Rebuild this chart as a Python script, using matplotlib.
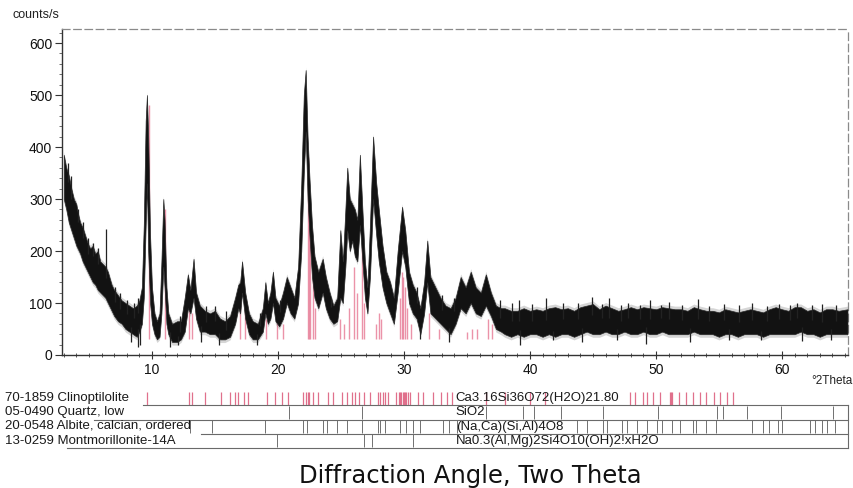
import numpy as np
import matplotlib
matplotlib.use("Agg")
import matplotlib.pyplot as plt
from matplotlib.ticker import MultipleLocator

# ---------------- data ----------------
# noise band of the measured pattern: two-theta, lower edge, upper edge (counts/s)
two_theta = [3.0, 3.2, 3.4, 3.6, 3.8, 4.0, 4.1, 4.3, 4.5, 4.7, 4.9, 5.1, 5.3, 5.5, 5.7, 5.9,
             6.1, 6.3, 6.5, 6.8, 7.0, 7.3, 7.6, 7.9, 8.2, 8.5, 8.8, 9.0, 9.2, 9.35, 9.5, 9.6,
             9.7, 9.85, 10.0, 10.2, 10.4, 10.6, 10.75, 10.9, 11.0, 11.15, 11.3, 11.6, 12.0,
             12.3, 12.6, 12.85, 13.05, 13.3, 13.5, 13.8, 14.2, 14.6, 15.0, 15.4, 15.8, 16.2,
             16.6, 16.85, 17.0, 17.15, 17.4, 17.7, 18.0, 18.4, 18.8, 19.0, 19.2, 19.4, 19.6,
             19.8, 20.1, 20.4, 20.7, 21.0, 21.3, 21.6, 21.85, 22.05, 22.2, 22.35, 22.5, 22.7,
             22.9, 23.2, 23.55, 23.8, 24.1, 24.4, 24.7, 24.95, 25.15, 25.35, 25.5, 25.7, 25.9,
             26.1, 26.3, 26.5, 26.7, 26.9, 27.1, 27.3, 27.55, 27.8, 28.0, 28.3, 28.6, 28.9,
             29.2, 29.5, 29.85, 30.1, 30.4, 30.7, 31.0, 31.3, 31.6, 31.85, 32.1, 32.5, 32.9,
             33.3, 33.7, 34.1, 34.5, 34.9, 35.3, 35.7, 36.1, 36.5, 36.9, 37.3, 37.7,
             38.0, 38.5, 39.0, 39.5, 40.0, 40.5, 41.0, 41.5, 42.0, 42.5, 43.0, 43.5, 44.0,
             44.5, 45.0, 45.5, 46.0, 46.5, 47.0, 47.5, 48.0, 48.5, 49.0, 49.5, 50.0, 50.5,
             51.0, 51.5, 52.0, 52.5, 53.0, 53.5, 54.0, 54.5, 55.0, 55.5, 56.0, 56.5, 57.0,
             57.5, 58.0, 58.5, 59.0, 59.5, 60.0, 60.5, 61.0, 61.5, 62.0, 62.5, 63.0, 63.5,
             64.0, 64.5, 65.2]
band_low = [300, 280, 255, 240, 225, 210, 205, 195, 180, 170, 160, 150, 140, 135, 125, 120,
            115, 110, 100, 85, 75, 65, 60, 50, 45, 40, 35, 45, 60, 110, 250, 330,
            200, 100, 60, 40, 30, 35, 80, 170, 130, 60, 40, 25, 25,
            30, 45, 90, 80, 110, 70, 45, 45, 40, 40, 30, 30, 35,
            60, 90, 80, 120, 70, 40, 30, 30, 45, 80, 60, 70, 100,
            65, 55, 70, 100, 80, 70, 100, 200, 350, 430, 300, 230, 150,
            110, 90, 120, 90, 70, 60, 65, 110, 100, 170, 240, 200, 220,
            190, 180, 250, 180, 110, 80, 150, 300, 230, 180, 130, 100, 80,
            60, 120, 200, 170, 100, 80, 70, 40, 80, 140, 80, 70, 60,
            50, 40, 60, 90, 80, 100, 80, 75, 95, 75, 50, 45,
            40, 35, 40, 35, 40, 40, 35, 40, 35, 40, 40, 35, 40,
            45, 40, 40, 45, 40, 40, 45, 40, 40, 45, 40, 40, 45,
            40, 40, 40, 40, 45, 40, 40, 40, 35, 40, 40, 35, 40,
            40, 40, 35, 40, 40, 40, 40, 40, 45, 40, 40, 35, 40,
            40, 40, 40]
band_high = [385, 360, 345, 320, 300, 290, 275, 255, 245, 230, 215, 205, 210, 195, 200, 180,
             175, 170, 160, 135, 125, 115, 105, 100, 95, 90, 95, 105, 130, 250, 450, 500,
             420, 230, 130, 80, 65, 80, 180, 300, 260, 130, 80, 60, 65,
             65, 110, 155, 125, 185, 120, 95, 85, 80, 85, 70, 65, 75,
             110, 135, 140, 180, 120, 80, 65, 60, 90, 140, 100, 120, 160,
             110, 95, 120, 150, 130, 110, 170, 330, 500, 548, 420, 340, 250,
             190, 160, 185, 150, 120, 95, 110, 240, 180, 280, 360, 300, 290,
             280, 260, 385, 280, 180, 130, 250, 420, 330, 280, 210, 160, 140,
             110, 200, 285, 240, 160, 135, 120, 90, 140, 220, 150, 130, 110,
             95, 90, 110, 150, 130, 160, 130, 120, 155, 120, 95, 90,
             90, 85, 85, 90, 85, 88, 85, 90, 92, 88, 90, 85, 92,
             95, 98, 88, 95, 90, 85, 88, 92, 88, 92, 90, 88, 92,
             90, 88, 88, 85, 92, 88, 85, 85, 82, 88, 85, 82, 85,
             88, 85, 82, 88, 92, 88, 85, 92, 92, 85, 88, 82, 88,
             88, 85, 88]

# isolated noise spikes above / below the band
spike_up_x = [3.3, 3.6, 4.1, 4.5, 4.9, 5.3, 5.75, 6.35, 7.1, 7.5, 8.0, 8.6, 8.9, 12.2,
              14.3, 15.0, 15.9, 18.6, 20.2, 24.2, 31.0, 33.0, 34.0, 37.6, 38.6, 39.1, 40.2,
              41.3, 42.6, 43.8, 44.9, 45.7, 46.3, 47.2, 47.8, 48.7, 49.5, 50.4, 51.0, 52.1,
              53.3, 54.2, 55.4, 56.6, 57.6, 58.8, 59.8, 60.6, 61.2, 62.4, 63.2, 64.3]
spike_up_top = [370, 345, 280, 255, 225, 215, 205, 242, 130, 120, 105, 100, 110, 75,
                95, 95, 85, 80, 105, 110, 130, 115, 110, 105, 100, 105, 98,
                110, 100, 100, 112, 98, 109, 96, 100, 97, 105, 97, 102, 96,
                108, 95, 98, 96, 100, 95, 98, 96, 100, 97, 98, 96]
spike_dn_x = [8.3, 8.9, 9.05, 11.4, 12.1, 13.9, 15.3, 18.3, 31.3, 33.6, 39.2, 41.8, 44.1,
              46.9, 49.2, 52.7, 55.8, 58.3, 61.6, 63.9]
spike_dn_bottom = [25, 15, 20, 15, 20, 25, 20, 20, 30, 25, 20, 28, 25, 28, 22, 25, 28,
                   28, 27, 28]

# Clinoptilolite reference lines drawn in the pattern (position, intensity)
ref_x = [9.75, 11.05, 12.95, 13.15, 16.95, 17.35, 19.05, 19.9, 20.4, 22.35, 22.45, 22.55,
         22.75, 22.95, 24.95, 25.25, 25.6, 26.05, 26.25, 26.65, 26.85, 27.75, 28.05, 28.2,
         29.7, 29.85, 29.95, 30.05, 30.25, 30.55, 31.95, 32.8, 35.0, 35.4, 35.8, 36.7, 36.95]
ref_y = [480, 280, 100, 80, 110, 90, 70, 80, 60, 380, 300, 250,
         150, 90, 70, 60, 90, 170, 120, 210, 100, 60, 80, 70,
         110, 160, 150, 130, 90, 60, 80, 50, 45, 50, 50, 70, 60]

# stick patterns of the identified phases
phase_codes = ["70-1859", "05-0490", "20-0548", "13-0259"]
phase_names = ["Clinoptilolite", "Quartz, low", "Albite, calcian, ordered", "Montmorillonite-14A"]
phase_formulas = ["Ca3.16Si36O72(H2O)21.80", "SiO2", "(Na,Ca)(Si,Al)4O8",
                  "Na0.3(Al,Mg)2Si4O10(OH)2!xH2O"]
clino_sticks = [9.6, 12.9, 13.2, 14.2, 15.5, 16.2, 16.6, 16.8, 17.3, 17.6, 19.1, 19.8, 20.3,
                20.8, 22.0, 22.2, 22.4, 22.5, 22.8, 23.2, 24.0, 24.4, 25.1, 25.5, 25.9, 26.1,
                26.4, 26.8, 27.3, 27.9, 28.1, 28.3, 28.5, 28.7, 29.4, 29.6, 29.7, 29.8, 29.9,
                30.0, 30.1, 30.2, 30.3, 30.5, 31.1, 31.5, 32.3, 32.9, 33.4, 33.8, 36.5, 38.0,
                40.0, 41.2, 47.9, 48.3, 49.0, 49.3, 49.8, 50.3, 51.1, 51.2, 51.3, 51.8, 52.4,
                52.9, 53.5, 54.0, 54.6, 55.1, 55.6, 56.1]
quartz_sticks = [20.86, 26.64, 36.54, 39.46, 40.29, 42.45, 45.79, 50.14, 54.87, 55.32,
                 57.23, 59.96, 64.03]
albite_sticks = [13.0, 14.8, 19.0, 22.0, 22.3, 23.6, 23.9, 24.7, 25.5, 26.7, 27.9, 28.1,
                 28.5, 29.7, 30.2, 30.7, 31.3, 33.1, 33.6, 34.2, 43.7, 44.5, 45.8, 46.1,
                 47.3, 47.7, 48.5, 49.3, 50.1, 50.5, 51.3, 51.9, 52.9, 53.2, 54.0, 54.8,
                 57.6, 58.5, 59.0, 59.7, 60.0, 62.2, 62.6, 63.2, 63.6, 64.2]
montm_sticks = [19.9, 26.8, 27.5, 30.7]
phase_sticks = [clino_sticks, quartz_sticks, albite_sticks, montm_sticks]

x_ticks = [10, 20, 30, 40, 50, 60]
y_ticks = [0, 100, 200, 300, 400, 500, 600]

# ---------------- drawing ----------------
W, H = 854, 488
fig = plt.figure(figsize=(W / 100, H / 100), dpi=100)
plt.rcParams["font.family"] = ["Liberation Sans", "DejaVu Sans"]

XMIN, XMAX = 2.86, 65.24
YMAX = 627
ax = fig.add_axes([62 / W, 1 - 355 / H, (848 - 62) / W, (355 - 29) / H])
ax.set_xlim(XMIN, XMAX)
ax.set_ylim(0, YMAX)

pink = "#e8809a"
ax.vlines(ref_x, 30, ref_y, color=pink, lw=1.0, alpha=0.85, zorder=1)

band_col = "#121212"
# soft grey halo imitating the scanned, blurred trace
ax.fill_between(two_theta, np.array(band_low) - 6, np.array(band_high) + 6,
                color="#6f6f6f", alpha=0.28, lw=0, zorder=2)
ax.fill_between(two_theta, band_low, band_high, color=band_col, lw=0.5,
                edgecolor="#2a2a2a", zorder=3)
hi_at = np.interp(spike_up_x, two_theta, band_high)
ax.vlines(spike_up_x, hi_at - 20, spike_up_top, color="#222222", lw=0.9, zorder=3)
lo_at = np.interp(spike_dn_x, two_theta, band_low)
ax.vlines(spike_dn_x, spike_dn_bottom, lo_at + 10, color="#222222", lw=0.9, zorder=3)

for s in ["top", "right"]:
    ax.spines[s].set_color("#8a8a8a")
    ax.spines[s].set_linestyle((0, (6, 3)))
    ax.spines[s].set_linewidth(0.9)
for s in ["left", "bottom"]:
    ax.spines[s].set_color("#333333")
    ax.spines[s].set_linewidth(1.0)

ax.set_xticks(x_ticks)
ax.set_yticks(y_ticks)
ax.xaxis.set_minor_locator(MultipleLocator(1))
ax.yaxis.set_minor_locator(MultipleLocator(20))
ax.tick_params(axis="x", which="major", direction="inout", length=6, width=0.8,
               labelsize=10, pad=3, colors="#333333", labelcolor="#111111")
ax.tick_params(axis="x", which="minor", direction="inout", length=3, width=0.7,
               colors="#555555")
ax.tick_params(axis="y", which="major", direction="out", length=5, width=0.8,
               labelsize=10, pad=2, colors="#333333", labelcolor="#111111")
ax.tick_params(axis="y", which="minor", direction="out", length=2.5, width=0.6,
               colors="#555555")

fig.text(13 / W, 1 - 15 / H, "counts/s", fontsize=9, ha="left", va="center",
         color="#222222")
fig.text(811 / W, 1 - 381 / H, "°2Theta", fontsize=8.5, ha="left", va="center",
         color="#222222")

# stick-pattern panel
sax = fig.add_axes([62 / W, 1 - 448 / H, (848 - 62) / W, (448 - 391) / H])
sax.set_xlim(XMIN, XMAX)
sax.set_ylim(0, 4)
sax.axis("off")

row_centers_px = [398, 412, 426, 441]
line_start = [9.3, 5.4, 13.9, 3.25]
for i in range(4):
    bottom = 3 - i
    col = "#e0708c" if i == 0 else "#707070"
    sax.vlines(phase_sticks[i], bottom + 0.05, bottom + 0.95, color=col,
               lw=0.9 if i == 0 else 0.7, zorder=1)
    sax.plot([line_start[i], XMAX], [bottom, bottom], color="#6a6a6a", lw=0.8,
             clip_on=False, zorder=2)
    fig.text(5 / W, 1 - row_centers_px[i] / H, f"{phase_codes[i]} {phase_names[i]}",
             fontsize=9.5, ha="left", va="center", color="#1a1a1a")
    sax.text(34.1, bottom + 0.5, phase_formulas[i], fontsize=9.5, ha="left",
             va="center", color="#1a1a1a", zorder=3)
sax.plot([XMAX, XMAX], [0, 3], color="#6a6a6a", lw=0.8, clip_on=False)

fig.text(470 / W, 1 - 476 / H, "Diffraction Angle, Two Theta", fontsize=17.5,
         ha="center", va="center", color="#111111", family=["DejaVu Sans"])

fig.savefig("out.png", dpi=100)
